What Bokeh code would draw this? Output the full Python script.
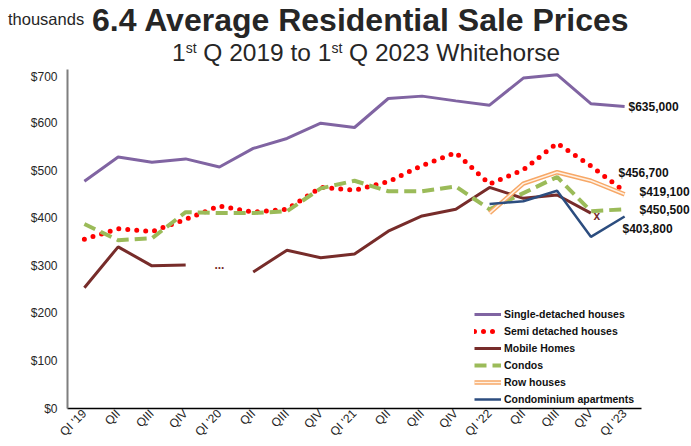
import math
from bokeh.plotting import figure
from bokeh.layouts import column
from bokeh.models import Label, Legend, LegendItem, FixedTicker, NumeralTickFormatter, Range1d, Div
from bokeh.embed import file_html
from bokeh.resources import INLINE

nan = float("nan")

quarters = ["QI '19", "QII", "QIII", "QIV", "QI '20", "QII", "QIII", "QIV",
            "QI '21", "QII", "QIII", "QIV", "QI '22", "QII", "QIII", "QIV", "QI '23"]
single_detached = [478, 529, 518, 525, 508, 547, 568, 600, 591, 652, 657, 647, 638, 695, 702, 641, 635]
semi_detached = [356, 378, 372, 398, 426, 413, 419, 465, 459, 477, 511, 538, 472, 502, 558, 510, 456.7]
mobile_homes = [254, 340, 300, 302, nan, 287, 333, 317, 325, 373, 405, 419, 465, 442, 449, 411, nan]
condos = [388, 354, 358, 413, 411, 411, 415, 463, 479, 457, 457, 467, 419, 453, 487, 415, 419.1]
row_houses = [nan] * 12 + [411, 473, 497, 479, 450.5]
condo_apartments = [nan] * 12 + [430, 436, 458, 361, 403.8]
y_ticks = [0, 100, 200, 300, 400, 500, 600, 700]
end_labels = ["$635,000", "$456,700", "$419,100", "$450,500", "$403,800"]

unit_label = "thousands"
main_title = "6.4 Average Residential Sale Prices"

x = list(range(len(quarters)))
FONT = "Liberation Sans"
W = 691
TOP_H = 69
MAIN_H = 446 - TOP_H
LEFT = 67
AXIS_W = 574  # pixel length of the category axis
n = len(quarters)
x_end = -0.5 + (W - LEFT) * n / AXIS_W

# ---------- title strip (inline SVG text) ----------
title_svg = f"""
<svg xmlns="http://www.w3.org/2000/svg" width="{W}" height="{TOP_H}" style="display:block">
<text x="8" y="25" font-family="Roboto" font-size="16.5" fill="#262626">{unit_label}</text>
<text x="92" y="31" font-family="Lato" font-weight="bold" font-size="32" fill="#262626">{main_title}</text>
<text x="172" y="61" font-family="Roboto" font-size="24.5" fill="#262626">1<tspan dy="-8" font-size="14">st</tspan><tspan dy="8"> Q 2019 to 1</tspan><tspan dy="-8" font-size="14">st</tspan><tspan dy="8"> Q 2023 Whitehorse</tspan></text>
</svg>
"""
t = Div(text=title_svg, width=W, height=TOP_H, margin=(0, 0, 0, 0))

# ---------- main chart ----------
p = figure(width=W, height=MAIN_H, output_backend="svg", toolbar_location=None,
           x_range=Range1d(-0.5, x_end), y_range=Range1d(0, 713),
           min_border_left=LEFT, min_border_right=0, min_border_top=0, min_border_bottom=37)
p.outline_line_color = None
p.xgrid.visible = False
p.ygrid.visible = False
p.background_fill_color = "white"

p.yaxis.ticker = FixedTicker(ticks=y_ticks)
p.yaxis.formatter = NumeralTickFormatter(format="$0")
p.yaxis.major_tick_out = 0
p.yaxis.major_tick_in = 0
p.yaxis.minor_tick_out = 0
p.yaxis.minor_tick_in = 0
p.yaxis.axis_line_color = "#7f7f7f"
p.yaxis.axis_line_width = 2
p.yaxis.major_label_text_font = FONT
p.yaxis.major_label_text_font_size = "12px"
p.yaxis.major_label_text_color = "#262626"
p.yaxis.major_label_standoff = 10

p.xaxis.ticker = FixedTicker(ticks=x)
p.xaxis.bounds = (-0.5, n - 0.5)
p.xaxis.major_label_overrides = {i: q for i, q in enumerate(quarters)}
p.xaxis.major_label_orientation = math.pi / 4
p.xaxis.major_tick_out = 0
p.xaxis.major_tick_in = 0
p.xaxis.minor_tick_out = 0
p.xaxis.minor_tick_in = 0
p.xaxis.axis_line_color = "black"
p.xaxis.axis_line_width = 1.5
p.xaxis.major_label_text_font = FONT
p.xaxis.major_label_text_font_size = "12px"
p.xaxis.major_label_text_color = "#262626"
p.xaxis.major_label_standoff = 3

r_single = p.line(x, single_detached, line_color="#8064A2", line_width=3)
r_semi = p.line(x, semi_detached, line_color="#FF0000", line_width=5, line_dash=[0, 9], line_cap="round")
r_mobile = p.line(x, mobile_homes, line_color="#772C2A", line_width=3)
r_condos = p.line(x, condos, line_color="#9BBB59", line_width=4, line_dash="12 6")
r_row_o = p.line(x, row_houses, line_color="#F7A867", line_width=4.5)
r_row_i = p.line(x, row_houses, line_color="#FFF1E4", line_width=1.5)
r_apts = p.line(x, condo_apartments, line_color="#2C4D7F", line_width=2.5)

legend = Legend(items=[
    LegendItem(label="Single-detached houses", renderers=[r_single]),
    LegendItem(label="Semi detached houses", renderers=[r_semi]),
    LegendItem(label="Mobile Homes", renderers=[r_mobile]),
    LegendItem(label="Condos", renderers=[r_condos]),
    LegendItem(label="Row houses", renderers=[r_row_o, r_row_i]),
    LegendItem(label="Condominium apartments", renderers=[r_apts]),
], location=(407, 2))
legend.label_text_font = FONT
legend.label_text_font_style = "bold"
legend.label_text_font_size = "10.5px"
legend.label_text_color = "#111111"
legend.glyph_width = 27
legend.glyph_height = 14
legend.label_height = 14
legend.label_standoff = 3
legend.spacing = 3
legend.padding = 0
legend.margin = 0
legend.border_line_alpha = 0
legend.background_fill_alpha = 0
p.add_layout(legend)

# missing-data marks
p.add_layout(Label(x=4, y=(mobile_homes[3] + mobile_homes[5]) / 2, text="...",
                   text_font=FONT, text_font_style="bold", text_font_size="12px",
                   text_color="#772C2A", text_align="center", text_baseline="alphabetic", y_offset=4))
p.add_layout(Label(x=15, y=mobile_homes[15], text="x", x_offset=6, y_offset=-3,
                   text_font=FONT, text_font_style="bold", text_font_size="12px",
                   text_color="#772C2A", text_align="center", text_baseline="middle"))

# end value labels (frame-relative screen positions)
end_pos = [(561, 302), (551, 236), (572, 217), (572, 199), (555, 180)]
for txt, (lx, ly) in zip(end_labels, end_pos):
    p.add_layout(Label(x=lx, y=ly, x_units="screen", y_units="screen", text=txt,
                       text_font=FONT, text_font_style="bold", text_font_size="12px",
                       text_color="#111111", text_align="left", text_baseline="middle"))

layout = column(t, p, spacing=0)
open("out.html", "w").write(file_html(layout, INLINE))
